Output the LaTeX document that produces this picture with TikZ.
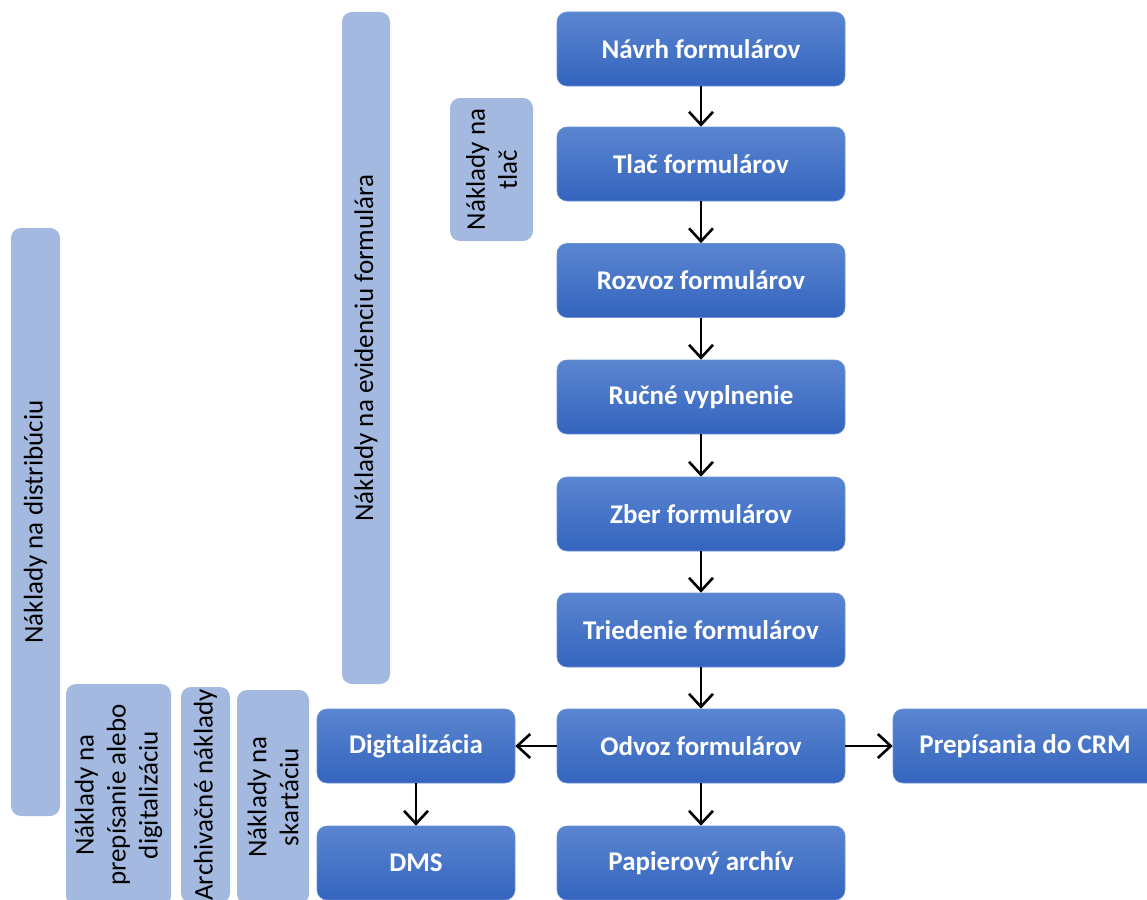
\documentclass[tikz,border=0pt]{standalone}
\usepackage{fontspec}
\setmainfont{Carlito}
\usetikzlibrary{arrows.meta}
\definecolor{mtop}{HTML}{5A85D0}
\definecolor{mbot}{HTML}{3464BE}
\definecolor{mline}{HTML}{6B93D8}
\definecolor{lblue}{HTML}{A3B9E0}
\tikzset{
  mainbox/.style={rounded corners=10pt, top color=mtop, bottom color=mbot, draw=mline, line width=0.6pt,
    minimum width=288pt, minimum height=74pt, inner sep=0pt, text=white,
    font=\fontsize{27}{32}\selectfont\bfseries, align=center},
  lightbox/.style={rounded corners=10pt, fill=lblue, draw=none, rotate=90,
    inner sep=0pt, text=black, font=\fontsize{27}{32}\selectfont, align=center},
  flow/.style={-{Straight Barb[length=13pt,width=24pt]}, line width=2.6pt, black}
}
\begin{document}
\begin{tikzpicture}[x=1pt,y=-1pt]
\path[use as bounding box, clip] (0,0) rectangle (1147,899);
% side cost boxes
\node[lightbox, minimum width=672pt, minimum height=48pt] (evid) at (366,348) {Náklady na evidenciu formulára};
\node[lightbox, minimum width=143pt, minimum height=83pt] (tlac) at (491.5,169.5) {Náklady na\\tlač};
\node[lightbox, minimum width=588pt, minimum height=49pt] (distr) at (35.5,522) {Náklady na distribúciu};
\node[lightbox, minimum width=222pt, minimum height=105pt] (prep) at (118.5,795) {Náklady na\\prepísanie alebo\\digitalizáciu};
\node[lightbox, minimum width=216pt, minimum height=49pt] (arch) at (205.5,795) {Archivačné náklady};
\node[lightbox, minimum width=214pt, minimum height=72pt] (skart) at (273,797) {Náklady na\\skartáciu};
% main flow
\node[mainbox] (n1) at (701,49) {Návrh formulárov};
\node[mainbox] (n2) at (701,164) {Tlač formulárov};
\node[mainbox] (n3) at (701,280.5) {Rozvoz formulárov};
\node[mainbox] (n4) at (701,397) {Ručné vyplnenie};
\node[mainbox] (n5) at (701,514) {Zber formulárov};
\node[mainbox] (n6) at (701,630) {Triedenie formulárov};
\node[mainbox] (n7) at (701,746) {Odvoz formulárov};
\node[mainbox] (n8) at (701,863) {Papierový archív};
\node[mainbox, minimum width=198pt] (dig) at (416,746) {Digitalizácia};
\node[mainbox, minimum width=198pt] (dms) at (416,863) {DMS};
\node[mainbox, minimum width=264pt] (crm) at (1025,746) {Prepísania do CRM};
% connectors
\draw[flow] (n1) -- (n2);
\draw[flow] (n2) -- (n3);
\draw[flow] (n3) -- (n4);
\draw[flow] (n4) -- (n5);
\draw[flow] (n5) -- (n6);
\draw[flow] (n6) -- (n7);
\draw[flow] (n7) -- (n8);
\draw[flow] (n7) -- (dig);
\draw[flow] (n7) -- (crm);
\draw[flow] (dig) -- (dms);
\end{tikzpicture}
\end{document}
